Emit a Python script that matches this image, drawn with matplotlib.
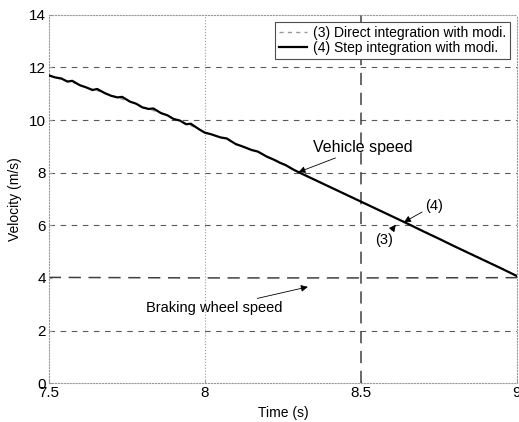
import matplotlib.pyplot as plt

plt.rcParams['font.family'] = ['Liberation Sans', 'DejaVu Sans']

# time axis (s)
time_s = [7.50, 7.52, 7.54, 7.56, 7.575, 7.60, 7.62, 7.64, 7.655, 7.68, 7.70,
          7.72, 7.735, 7.76, 7.78, 7.80, 7.82, 7.835, 7.86, 7.88, 7.90, 7.92,
          7.94, 7.955, 7.98, 8.00, 8.02, 8.05, 8.07, 8.10, 8.12, 8.15, 8.17,
          8.20, 8.22, 8.24, 8.26, 8.28, 8.30, 8.35, 8.40, 8.45, 8.50, 8.55,
          8.60, 8.65, 8.70, 8.75, 8.80, 8.85, 8.90, 8.95, 9.00]

# (4) step integration, vehicle speed (m/s)
v_step = [11.70, 11.62, 11.58, 11.46, 11.49, 11.32, 11.24, 11.14, 11.18, 11.02,
          10.92, 10.86, 10.88, 10.70, 10.62, 10.48, 10.42, 10.44, 10.26, 10.18,
          10.04, 9.98, 9.84, 9.86, 9.66, 9.52, 9.46, 9.34, 9.30, 9.08, 9.00,
          8.86, 8.80, 8.60, 8.50, 8.38, 8.28, 8.14, 8.02, 7.74, 7.46, 7.18,
          6.90, 6.62, 6.34, 6.06, 5.77, 5.49, 5.20, 4.92, 4.64, 4.36, 4.07]

# (3) direct integration, vehicle speed (m/s)
v_direct = [11.68, 11.62, 11.55, 11.48, 11.44, 11.33, 11.24, 11.16, 11.12, 11.02,
            10.93, 10.85, 10.80, 10.70, 10.61, 10.50, 10.42, 10.36, 10.27, 10.18,
            10.05, 9.96, 9.86, 9.79, 9.66, 9.54, 9.45, 9.34, 9.27, 9.10, 9.00,
            8.88, 8.79, 8.62, 8.51, 8.40, 8.29, 8.16, 8.03, 7.75, 7.47, 7.19,
            6.91, 6.63, 6.35, 6.07, 5.78, 5.50, 5.21, 4.93, 4.65, 4.37, 4.08]

# braking wheel speed (m/s)
wheel_t = [7.50, 8.00, 8.50, 9.00]
wheel_v = [4.02, 4.00, 4.00, 4.01]

fig = plt.figure(figsize=(5.19, 4.22), dpi=100)
ax = fig.add_axes([0.094, 0.092, 0.902, 0.873])

# grid: dashed horizontals, faint dotted vertical at 8 s
for yv in [2, 6, 8, 10, 12]:
    ax.axhline(yv, color='0.35', lw=0.8, dashes=(5, 5), zorder=1)
ax.axvline(8.0, color='0.6', lw=0.8, ls=':', zorder=1)

ax.plot(wheel_t, wheel_v, color='0.25', lw=1.1, dashes=(8, 5), zorder=2)
ax.axvline(8.5, color='0.25', lw=1.1, dashes=(8, 5), zorder=2)
ax.plot(time_s, v_direct, color='0.6', lw=1.0, dashes=(3, 3), zorder=3,
        label='(3) Direct integration with modi.')
ax.plot(time_s, v_step, color='black', lw=1.6, zorder=4,
        label='(4) Step integration with modi.')

ax.set_xlim(7.5, 9)
ax.set_ylim(0, 14)
ax.set_xticks([7.5, 8, 8.5, 9])
ax.set_xticklabels(['7.5', '8', '8.5', '9'])
ax.set_yticks(range(0, 15, 2))
ax.tick_params(direction='in', length=2, labelsize=11, color='0.6', pad=2)
for s in ax.spines.values():
    s.set_color('0.6')
    s.set_linewidth(0.8)
    s.set_linestyle(':')

ax.set_xlabel('Time (s)', fontsize=10, labelpad=4)
ax.set_ylabel('Velocity (m/s)', fontsize=10, labelpad=5)

arrow = dict(arrowstyle='-|>', color='black', lw=0.6, mutation_scale=10,
             shrinkA=0, shrinkB=0)
ax.annotate('Vehicle speed', xy=(8.30, 8.02), xytext=(8.345, 8.95),
            fontsize=11.5, va='center', arrowprops=arrow)
ax.annotate('(4)', xy=(8.638, 6.12), xytext=(8.705, 6.75),
            fontsize=10.5, va='center', arrowprops=arrow)
ax.annotate('(3)', xy=(8.612, 6.02), xytext=(8.545, 5.45),
            fontsize=10.5, va='center', arrowprops=arrow)
ax.annotate('Braking wheel speed', xy=(8.33, 3.66), xytext=(8.25, 2.85),
            fontsize=10.5, va='center', ha='right', arrowprops=arrow)

leg = ax.legend(loc='upper right', fontsize=10, handlelength=2.0,
                borderaxespad=0.5, borderpad=0.3, labelspacing=0.1,
                handletextpad=0.4, fancybox=False, framealpha=1)
leg.get_frame().set_edgecolor('0.3')
leg.get_frame().set_linewidth(0.8)
leg.set_zorder(5)

fig.savefig('out.png', dpi=100)
